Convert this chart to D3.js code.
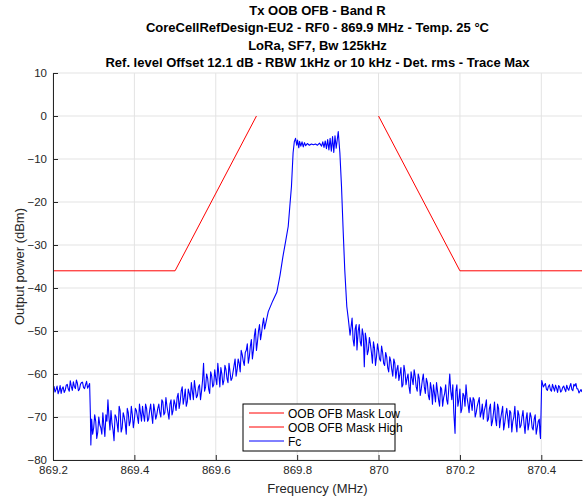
<!DOCTYPE html>
<html><head><meta charset="utf-8">
<script src="https://cdn.jsdelivr.net/npm/d3@7"></script>
<style>body{margin:0;background:#fff;}svg{display:block;font-family:"Liberation Sans",Arial,sans-serif;}</style>
</head><body><svg id="c" width="586" height="499"></svg>
<script>
const titleLines = [
  "Tx OOB OFB - Band R",
  "CoreCellRefDesign-EU2 - RF0 - 869.9 MHz - Temp. 25 °C",
  "LoRa, SF7, Bw 125kHz",
  "Ref. level Offset 12.1 dB - RBW 1kHz or 10 kHz - Det. rms - Trace Max"
];
const xLabel = "Frequency (MHz)";
const yLabel = "Output power (dBm)";
const xTicks = [869.2, 869.4, 869.6, 869.8, 870, 870.2, 870.4];
const xTickLabels = ["869.2", "869.4", "869.6", "869.8", "870", "870.2", "870.4"];
const yTicks = [10, 0, -10, -20, -30, -40, -50, -60, -70, -80];
const seriesNames = ["OOB OFB Mask Low", "OOB OFB Mask High", "Fc"];
const maskLow = [[869.2, -36], [869.5, -36], [869.7, 0]];
const maskHigh = [[870.0, 0], [870.2, -36], [870.5, -36]];
// Fc trace: [frequency MHz, power dBm]
const fcTrace = [
[869.200,-63.5],[869.205,-64.2],[869.210,-62.8],[869.215,-63.9],[869.220,-64.5],[869.225,-63.0],[869.230,-63.8],[869.235,-62.4],[869.240,-64.0],[869.245,-62.9],
[869.250,-61.8],[869.255,-63.4],[869.260,-62.2],[869.265,-63.6],[869.270,-62.0],[869.275,-63.1],[869.280,-62.5],[869.285,-63.3],[869.290,-62.2],
[869.292,-70.0],[869.293,-76.5],
[869.295,-70.5],[869.300,-72.5],[869.305,-71.0],[869.310,-73.5],[869.315,-71.8],[869.320,-74.0],[869.325,-72.0],[869.330,-69.5],[869.335,-66.0],[869.340,-73.0],
[869.345,-71.5],[869.350,-75.5],[869.355,-70.0],[869.360,-73.5],[869.365,-68.5],[869.370,-72.5],[869.375,-70.0],[869.380,-74.0],[869.385,-69.0],[869.390,-71.0],
[869.395,-69.5],[869.400,-70.5],[869.405,-68.5],[869.410,-71.5],[869.415,-69.0],[869.420,-67.5],[869.425,-71.0],[869.430,-68.0],[869.435,-70.5],[869.440,-67.0],
[869.445,-71.5],[869.450,-68.5],[869.455,-69.5],[869.460,-67.0],[869.465,-70.0],[869.470,-66.5],[869.475,-69.0],[869.480,-67.5],[869.485,-70.5],[869.490,-66.0],
[869.495,-68.5],[869.500,-67.0],
[869.505,-65.5],[869.510,-68.0],[869.515,-64.0],[869.520,-67.0],[869.525,-63.5],[869.530,-66.5],[869.535,-64.5],[869.540,-62.0],[869.545,-66.0],[869.550,-63.5],
[869.555,-65.0],[869.560,-62.5],[869.565,-64.0],[869.570,-57.5],[869.575,-63.0],[869.580,-61.0],[869.585,-64.5],[869.590,-60.5],[869.595,-62.5],[869.600,-61.0],
[869.605,-57.5],[869.610,-63.0],[869.615,-60.0],[869.620,-61.5],[869.625,-59.0],[869.630,-62.0],[869.635,-59.5],[869.640,-61.0],[869.645,-58.0],[869.650,-60.5],
[869.655,-56.5],[869.660,-59.5],[869.665,-55.5],[869.670,-58.0],[869.675,-54.5],[869.680,-57.5],[869.685,-53.5],[869.690,-56.5],[869.695,-51.0],[869.700,-54.5],
[869.705,-50.0],[869.710,-52.0],[869.715,-48.5],[869.720,-49.5],
[869.729,-45.5],[869.740,-43.0],[869.750,-41.0],[869.758,-37.0],[869.765,-32.7],[869.772,-29.0],[869.778,-25.7],[869.782,-21.0],[869.786,-16.4],[869.790,-8.6],
[869.793,-6.0],[869.796,-5.2],
[869.799,-6.8],[869.801,-5.6],[869.804,-7.4],[869.806,-5.9],[869.809,-7.0],[869.812,-6.0],[869.815,-7.2],[869.818,-6.2],[869.821,-6.9],[869.825,-6.4],
[869.830,-6.8],[869.835,-6.5],[869.840,-6.7],[869.845,-6.5],[869.850,-6.8],[869.855,-6.3],[869.860,-7.0],[869.863,-6.0],[869.866,-7.3],[869.869,-5.8],
[869.872,-7.6],[869.875,-5.5],[869.878,-7.9],[869.881,-5.2],[869.884,-8.2],[869.887,-4.8],[869.890,-8.5],[869.893,-4.6],[869.896,-7.5],[869.901,-3.6],
[869.905,-8.6],[869.909,-16.4],[869.913,-26.5],[869.917,-35.8],[869.922,-44.3],[869.926,-47.4],
[869.930,-51.0],[869.935,-47.0],[869.940,-53.5],[869.945,-48.5],[869.947,-54.4],[869.950,-50.0],[869.955,-52.5],[869.960,-49.5],[869.965,-58.3],[869.970,-52.0],
[869.975,-54.5],[869.980,-53.0],[869.985,-57.5],[869.990,-54.0],[869.995,-56.0],[870.000,-54.5],[870.005,-57.0],[870.010,-55.0],[870.015,-58.0],[870.020,-56.0],
[870.025,-59.5],[870.030,-57.0],[870.035,-60.5],[870.040,-57.5],[870.045,-59.0],[870.050,-61.5],[870.055,-58.5],[870.060,-62.5],[870.065,-59.5],[870.070,-61.0],
[870.075,-63.0],[870.080,-59.5],[870.085,-62.5],[870.090,-60.5],[870.095,-64.0],[870.100,-61.0],[870.105,-63.5],[870.110,-60.0],[870.115,-64.5],[870.120,-62.0],
[870.125,-66.0],[870.130,-63.5],[870.135,-62.5],[870.140,-66.5],[870.145,-64.0],[870.150,-67.5],[870.155,-63.5],[870.160,-65.5],[870.165,-62.5],[870.170,-67.0],
[870.175,-60.0],[870.180,-66.0],[870.185,-69.0],[870.188,-73.8],[870.190,-64.0],[870.195,-67.5],[870.200,-63.5],[870.205,-68.0],[870.210,-65.0],[870.215,-62.5],
[870.220,-67.0],[870.225,-65.5],[870.230,-68.5],[870.235,-66.0],[870.240,-69.0],[870.245,-66.5],[870.250,-70.0],[870.255,-67.0],[870.260,-68.5],[870.265,-66.0],
[870.270,-70.5],[870.275,-67.0],[870.280,-71.0],[870.285,-66.5],[870.290,-72.0],[870.295,-68.0],[870.300,-70.5],[870.305,-67.5],[870.310,-71.5],[870.315,-68.0],
[870.320,-72.5],[870.325,-69.0],[870.330,-71.0],[870.335,-67.5],[870.340,-73.5],[870.345,-69.5],[870.350,-72.0],[870.355,-68.5],[870.360,-73.8],[870.365,-69.0],
[870.370,-71.5],[870.375,-70.0],[870.380,-73.0],[870.385,-69.5],[870.390,-72.5],[870.395,-70.5],[870.398,-75.0],[870.401,-61.5],
[870.405,-63.0],[870.410,-62.2],[870.415,-63.8],[870.420,-62.5],[870.425,-64.0],[870.430,-63.2],[870.435,-62.6],[870.440,-64.3],[870.445,-63.0],[870.450,-63.9],
[870.455,-62.8],[870.460,-64.1],[870.465,-63.4],[870.470,-62.9],[870.475,-63.6],[870.480,-62.4],[870.485,-62.2],[870.490,-63.5],[870.495,-64.0],[870.500,-64.2]
];
// additional in-between readings of the noisy Fc trace (same series)
const fcTraceFine = [
[869.2025,-62.9],[869.2075,-63.6],[869.2125,-64.6],[869.2175,-62.7],[869.2225,-63.4],[869.2275,-64.3],[869.2325,-62.6],[869.2375,-63.5],[869.2425,-61.6],[869.2475,-63.8],
[869.2525,-62.9],[869.2575,-61.4],[869.2625,-63.9],[869.2675,-62.4],[869.2725,-61.9],[869.2775,-63.4],[869.2825,-61.7],[869.2875,-62.8],
[869.2975,-74.0],[869.3025,-69.5],[869.3075,-75.0],[869.3125,-70.0],[869.3175,-72.5],[869.3225,-69.0],[869.3275,-74.5],[869.3325,-71.0],[869.3375,-70.0],[869.3425,-68.5],
[869.3475,-73.0],[869.3525,-69.5],[869.3575,-71.5],[869.3625,-67.5],[869.3675,-73.5],[869.3725,-69.0],[869.3775,-71.5],[869.3825,-68.0],[869.3875,-72.0],[869.3925,-67.5],
[869.3975,-72.5],[869.4025,-68.0],[869.4075,-70.0],[869.4125,-67.0],[869.4175,-71.0],[869.4225,-69.5],[869.4275,-67.0],[869.4325,-71.0],[869.4375,-68.5],[869.4425,-69.5],
[869.4475,-67.0],[869.4525,-70.5],[869.4575,-68.0],[869.4625,-69.0],[869.4675,-66.0],[869.4725,-69.5],[869.4775,-65.5],[869.4825,-69.0],[869.4875,-67.0],[869.4925,-69.5],
[869.4975,-66.0],
[869.5025,-68.5],[869.5075,-64.5],[869.5125,-66.5],[869.5175,-63.0],[869.5225,-65.5],[869.5275,-67.5],[869.5325,-63.5],[869.5375,-66.0],[869.5425,-64.0],[869.5475,-61.5],
[869.5525,-65.5],[869.5575,-63.0],[869.5625,-66.0],[869.5675,-61.5],[869.5725,-64.0],[869.5775,-60.0],[869.5825,-63.5],[869.5875,-59.5],[869.5925,-63.0],[869.5975,-59.0],
[869.6025,-62.5],[869.6075,-60.0],[869.6125,-58.5],[869.6175,-62.5],[869.6225,-58.0],[869.6275,-61.0],[869.6325,-57.5],[869.6375,-61.5],[869.6425,-59.5],[869.6475,-56.5],
[869.6525,-59.0],[869.6575,-57.5],[869.6625,-54.5],[869.6675,-57.0],[869.6725,-55.0],[869.6775,-53.0],[869.6825,-56.0],[869.6875,-52.0],[869.6925,-54.5],[869.6975,-49.5],
[869.7025,-52.5],[869.7075,-48.5],[869.7125,-50.5],[869.7175,-47.0],
[869.9325,-49.0],[869.9375,-52.0],[869.9425,-49.5],[869.9525,-48.5],[869.9575,-53.5],[869.9625,-51.0],[869.9675,-50.5],[869.9725,-55.5],[869.9775,-51.5],[869.9825,-55.0],
[869.9875,-52.5],[869.9925,-58.0],[869.9975,-53.0],
[870.0025,-56.5],[870.0075,-53.5],[870.0125,-57.5],[870.0175,-55.0],[870.0225,-58.5],[870.0275,-56.0],[870.0325,-59.0],[870.0375,-56.5],[870.0425,-61.0],[870.0475,-58.0],
[870.0525,-60.0],[870.0575,-63.0],[870.0625,-58.0],[870.0675,-62.5],[870.0725,-60.0],[870.0775,-64.5],[870.0825,-61.0],[870.0875,-59.0],[870.0925,-63.0],[870.0975,-60.0],
[870.1025,-65.0],[870.1075,-61.5],[870.1125,-63.0],[870.1175,-61.0],[870.1225,-65.0],[870.1275,-62.0],[870.1325,-67.0],[870.1375,-64.5],[870.1425,-62.0],[870.1475,-66.0],
[870.1525,-63.0],[870.1575,-67.5],[870.1625,-64.5],[870.1675,-66.0],[870.1725,-63.5],[870.1775,-64.0],[870.1825,-62.5],[870.1925,-62.5],[870.1975,-66.0],[870.2025,-69.0],
[870.2075,-64.5],[870.2125,-67.5],[870.2175,-65.5],[870.2225,-69.0],[870.2275,-66.5],[870.2325,-65.5],[870.2375,-70.0],[870.2425,-67.5],[870.2475,-65.5],[870.2525,-69.0],
[870.2575,-70.5],[870.2625,-67.5],[870.2675,-71.0],[870.2725,-68.0],[870.2775,-72.0],[870.2825,-69.0],[870.2875,-70.5],[870.2925,-67.0],[870.2975,-72.5],[870.3025,-69.0],
[870.3075,-73.0],[870.3125,-69.5],[870.3175,-70.0],[870.3225,-68.5],[870.3275,-73.5],[870.3325,-70.0],[870.3375,-71.5],[870.3425,-68.5],[870.3475,-72.5],[870.3525,-70.0],
[870.3575,-71.5],[870.3625,-70.5],[870.3675,-73.0],[870.3725,-69.0],[870.3775,-72.5],[870.3825,-70.5],[870.3875,-74.0],[870.3925,-71.0],[870.3965,-73.5],
[870.4075,-62.6],[870.4125,-63.5],[870.4175,-62.9],[870.4225,-63.7],[870.4275,-62.4],[870.4325,-64.0],[870.4375,-63.3],[870.4425,-62.7],[870.4475,-64.2],[870.4525,-63.1],
[870.4575,-63.5],[870.4625,-62.6],[870.4675,-63.8],[870.4725,-62.2],[870.4775,-63.9],[870.4825,-62.8],[870.4875,-63.4],[870.4925,-64.4],[870.4975,-63.6]
];

const svg = d3.select("#c");
const m = {l: 53, r: 582, t: 73, b: 460};
const x = d3.scaleLinear().domain([869.2, 870.5]).range([m.l, m.r]);
const y = d3.scaleLinear().domain([-80, 10]).range([m.b, m.t]);
const axisCol = "#262626";

// grid
const g = svg.append("g");
g.selectAll(".gx").data(xTicks).join("line")
  .attr("x1", d => x(d)).attr("x2", d => x(d)).attr("y1", m.t).attr("y2", m.b)
  .attr("stroke", "#e3e3e3").attr("stroke-width", 1);
g.selectAll(".gy").data(yTicks).join("line")
  .attr("x1", m.l).attr("x2", m.r).attr("y1", d => y(d)).attr("y2", d => y(d))
  .attr("stroke", "#e3e3e3").attr("stroke-width", 1);

// data
const fcAll = d3.sort(fcTrace.concat(fcTraceFine), d => d[0]);
const line = d3.line().x(d => x(d[0])).y(d => y(d[1]));
svg.append("clipPath").attr("id", "pc").append("rect")
  .attr("x", m.l).attr("y", m.t).attr("width", m.r - m.l).attr("height", m.b - m.t);
const pg = svg.append("g").attr("clip-path", "url(#pc)");
pg.append("path").datum(maskLow).attr("d", line).attr("fill", "none").attr("stroke", "#ff0000").attr("stroke-width", 1);
pg.append("path").datum(maskHigh).attr("d", line).attr("fill", "none").attr("stroke", "#ff0000").attr("stroke-width", 1);
pg.append("path").datum(fcAll).attr("d", line).attr("fill", "none").attr("stroke", "#0000ff").attr("stroke-width", 1.1).attr("stroke-linejoin", "round");

// axes
const xAxis = d3.axisBottom(x).tickValues(xTicks).tickFormat((d, i) => xTickLabels[i]).tickSizeInner(-5).tickSizeOuter(0).tickPadding(6);
const yAxis = d3.axisLeft(y).tickValues(yTicks).tickSizeInner(-5).tickSizeOuter(0).tickPadding(6);
const gx = svg.append("g").attr("transform", `translate(0,${m.b})`).call(xAxis);
const gy = svg.append("g").attr("transform", `translate(${m.l},0)`).call(yAxis);
[gx, gy].forEach(a => {
  a.select(".domain").attr("stroke", axisCol).attr("stroke-width", 1);
  a.selectAll(".tick line").attr("stroke", axisCol);
  a.selectAll(".tick text").attr("fill", axisCol).attr("font-size", 11.5).attr("font-family", "Liberation Sans, Arial, sans-serif");
});

// titles
svg.selectAll(".title").data(titleLines).join("text")
  .attr("x", (m.l + m.r) / 2).attr("y", (d, i) => 15 + i * 17.3)
  .attr("text-anchor", "middle").attr("font-weight", "bold").attr("font-size", 13)
  .attr("fill", "#000").text(d => d);
svg.append("text").attr("x", (m.l + m.r) / 2).attr("y", 493).attr("text-anchor", "middle")
  .attr("font-size", 13).attr("fill", axisCol).text(xLabel);
svg.append("text").attr("transform", `translate(24,${(m.t + m.b) / 2}) rotate(-90)`)
  .attr("text-anchor", "middle").attr("font-size", 13).attr("fill", axisCol).text(yLabel);

// legend
const lg = svg.append("g").attr("transform", "translate(243,404)");
lg.append("rect").attr("width", 152).attr("height", 47).attr("fill", "#fff").attr("stroke", "#000").attr("stroke-width", 1);
const colors = ["#ff0000", "#ff0000", "#0000ff"];
seriesNames.forEach((n, i) => {
  const yy = 9 + i * 14;
  lg.append("line").attr("x1", 6).attr("x2", 41).attr("y1", yy).attr("y2", yy).attr("stroke", colors[i]).attr("stroke-width", 1);
  lg.append("text").attr("x", 45).attr("y", yy + 4.5).attr("font-size", 12).attr("fill", "#000").text(n);
});
</script></body></html>
